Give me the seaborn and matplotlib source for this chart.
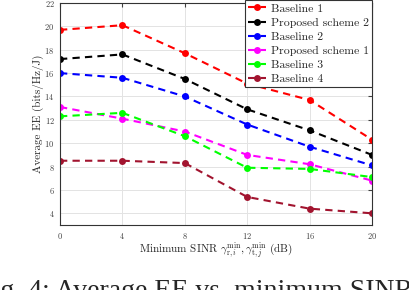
import numpy as np
import matplotlib
matplotlib.use("Agg")
import matplotlib.pyplot as plt
import pandas as pd
import seaborn as sns

# minimum SINR (dB)
sinr = [0, 4, 8, 12, 16, 20]

baseline1 = [19.7, 20.1, 17.7, 15.1, 13.7, 10.3]
proposed2 = [17.2, 17.6, 15.5, 12.9, 11.1, 9.0]
baseline2 = [16.0, 15.6, 14.0, 11.6, 9.7, 8.1]
proposed1 = [13.1, 12.1, 11.0, 9.0, 8.2, 6.8]
baseline3 = [12.3, 12.6, 10.6, 7.9, 7.8, 7.1]
baseline4 = [8.5, 8.5, 8.3, 5.4, 4.4, 4.0]

names = ["Baseline 1", "Proposed scheme 2", "Baseline 2",
         "Proposed scheme 1", "Baseline 3", "Baseline 4"]
series = [baseline1, proposed2, baseline2, proposed1, baseline3, baseline4]
colors = ["#ff0000", "#000000", "#0000ff", "#ff00ff", "#00ff00", "#a2142f"]

df = pd.DataFrame({"sinr": sinr * len(names),
                   "ee": sum(series, []),
                   "scheme": [n for n in names for _ in sinr]})

sns.set_style("whitegrid")
plt.rcParams['font.family'] = ['cmr10', 'DejaVu Serif']
plt.rcParams['mathtext.fontset'] = 'cm'
plt.rcParams['axes.formatter.use_mathtext'] = True

fig = plt.figure(figsize=(4.1, 2.9), dpi=100)
ax = fig.add_axes([60 / 410, 1 - 225 / 290, 312 / 410, 222 / 290])

sns.lineplot(data=df, x="sinr", y="ee", hue="scheme", hue_order=names,
             palette=colors, ax=ax, linestyle=(0, (3.5, 2.5)), linewidth=1.5,
             marker="o", markersize=5, markeredgewidth=0)

ax.set_xlim(0, 20)
ax.set_ylim(3, 22)
ax.set_xticks(sinr)
ax.set_yticks(range(4, 23, 2))
ax.tick_params(direction="in", length=3, labelsize=6, colors="#404040",
               top=True, right=True, labeltop=False, labelright=False, pad=4)
ax.tick_params(axis="both", labelcolor="#404040")
for s in ax.spines.values():
    s.set_color("#333333")
    s.set_linewidth(0.8)
ax.grid(True, color="#e3e3e3", linewidth=0.7)

ax.set_ylabel("Average EE (bits/Hz/J)", fontsize=8, labelpad=0)
ax.set_xlabel(r"Minimum SINR $\gamma_{\mathrm{r},i}^{\min}, \gamma_{\mathrm{t},j}^{\min}$ (dB)",
              fontsize=8, labelpad=0)

leg = ax.legend(loc="upper right", bbox_to_anchor=(1.0, 1.012), fontsize=8.5,
                frameon=True, fancybox=False, framealpha=1, edgecolor="#333333",
                handlelength=1.5, handletextpad=0.45, labelspacing=0.33,
                borderpad=0.25, borderaxespad=0)
leg.get_frame().set_linewidth(0.8)

# figure caption, cropped at the image edges as in the source
fig.text(-23 / 410, 1 - 298 / 290, "Fig. 4: Average EE vs. minimum SINR",
         fontsize=20, family="Liberation Serif", ha="left", va="baseline")

fig.savefig("out.png", dpi=100)
